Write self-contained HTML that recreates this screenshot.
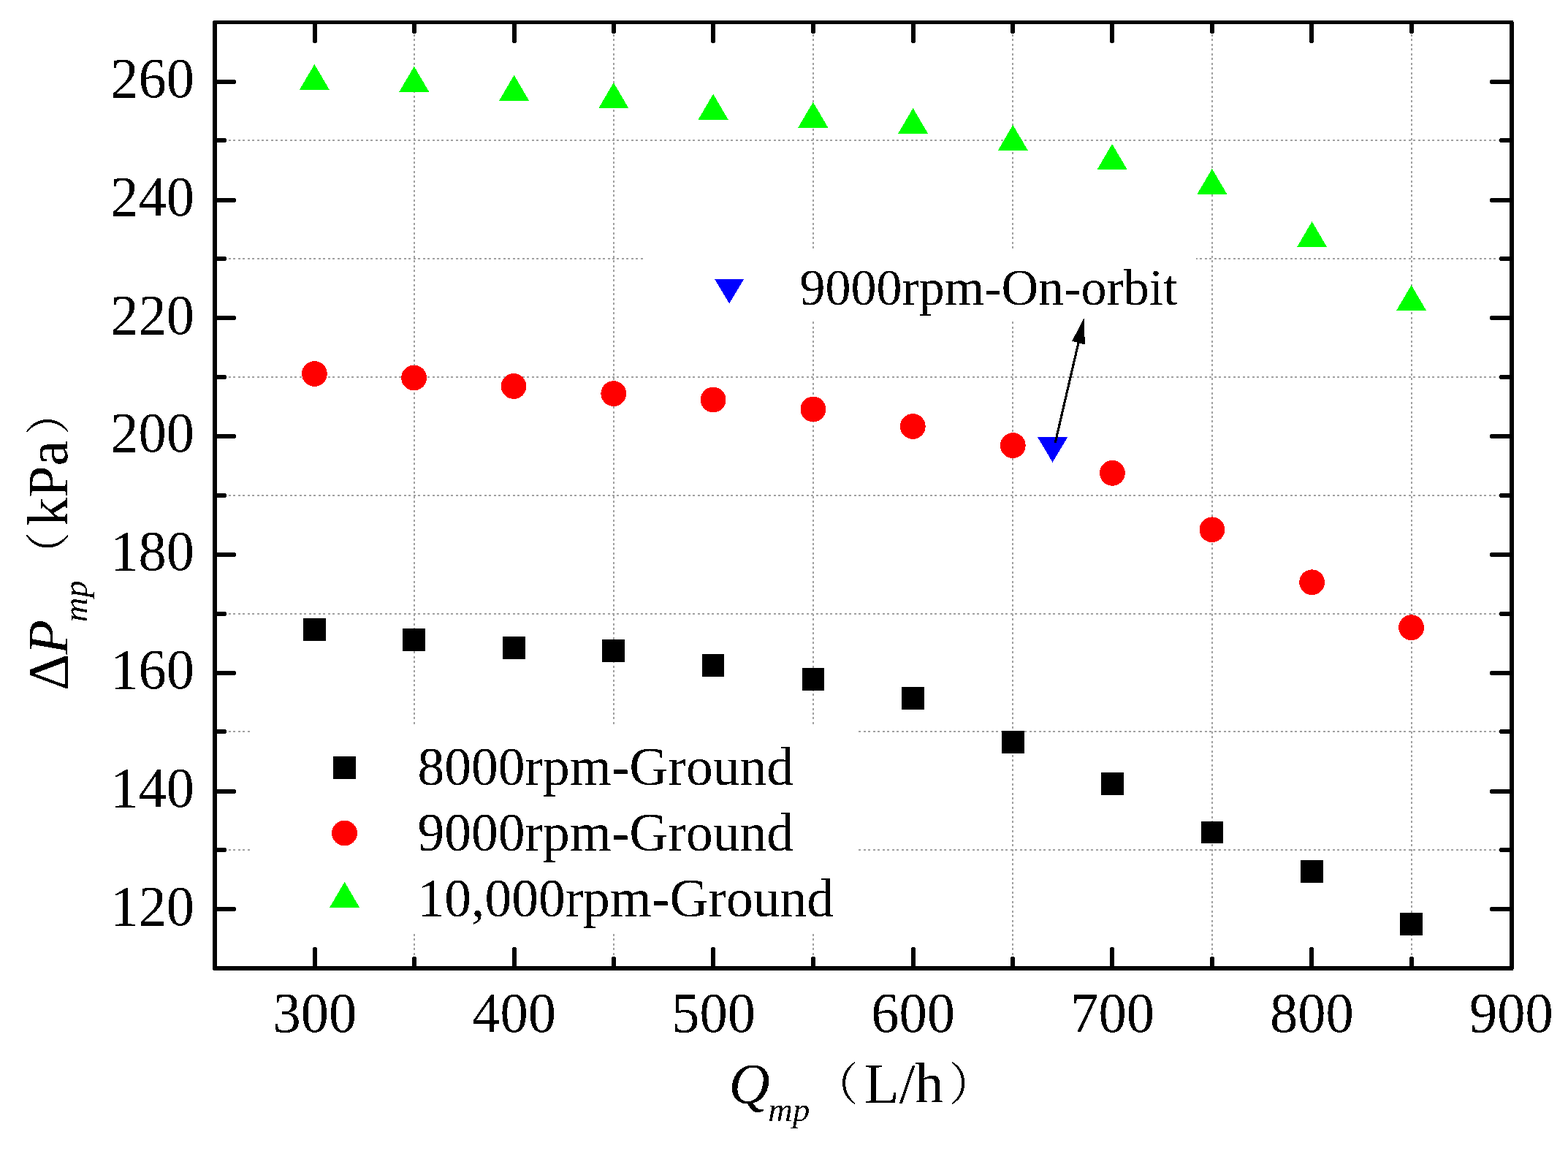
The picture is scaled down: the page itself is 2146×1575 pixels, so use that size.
<!DOCTYPE html>
<html lang="en"><head><meta charset="utf-8">
<title>Pump pressure rise vs flow rate</title>
<style>
html,body{margin:0;padding:0;background:#fff;}
body{width:2146px;height:1575px;overflow:hidden;}
svg{display:block;}
text{font-family:"Liberation Serif", "Noto Serif CJK SC", serif;fill:#000;filter:url(#bin);}
polygon,circle,rect{shape-rendering:crispEdges;}
.it{font-style:italic;}
.g{stroke:#a0a0a0;stroke-width:2;fill:none;}
.gh{stroke-dasharray:3 3.4863;stroke-dashoffset:3.86;}
.gv{stroke-dasharray:3 3.445;stroke-dashoffset:5.385;}
</style></head><body>
<svg width="2146" height="1575" viewBox="0 0 2146 1575">
<defs><filter id="bin" x="-5%" y="-5%" width="110%" height="110%" color-interpolation-filters="sRGB"><feComponentTransfer><feFuncA type="discrete" tableValues="0 1"/></feComponentTransfer></filter></defs>
<rect x="0" y="0" width="2146" height="1575" fill="#fff"/>
<g class="g" shape-rendering="crispEdges">
<line class="gv" x1="567" y1="33" x2="567" y2="1322"/>
<line class="gv" x1="840" y1="33" x2="840" y2="1322"/>
<line class="gv" x1="1113" y1="33" x2="1113" y2="1322"/>
<line class="gv" x1="1386" y1="33" x2="1386" y2="1322"/>
<line class="gv" x1="1659" y1="33" x2="1659" y2="1322"/>
<line class="gv" x1="1932" y1="33" x2="1932" y2="1322"/>
<line class="gh" x1="297" y1="192" x2="2066" y2="192"/>
<line class="gh" x1="297" y1="354" x2="2066" y2="354"/>
<line class="gh" x1="297" y1="516" x2="2066" y2="516"/>
<line class="gh" x1="297" y1="678" x2="2066" y2="678"/>
<line class="gh" x1="297" y1="840" x2="2066" y2="840"/>
<line class="gh" x1="297" y1="1001" x2="2066" y2="1001"/>
<line class="gh" x1="297" y1="1163" x2="2066" y2="1163"/>
</g>
<rect x="342" y="991" width="833" height="287" fill="#fff"/>
<rect x="881" y="340" width="756" height="100" fill="#fff"/>
<g fill="#00ff00"><polygon points="430.4,87.9 450.9,122.9 409.9,122.9"/><polygon points="566.8,90.8 587.3,125.8 546.3,125.8"/><polygon points="703.6,102.8 724.1,137.8 683.1,137.8"/><polygon points="839.8,113.0 860.3,148.0 819.3,148.0"/><polygon points="976.1,128.6 996.6,163.6 955.6,163.6"/><polygon points="1112.8,139.6 1133.3,174.6 1092.3,174.6"/><polygon points="1249.6,147.9 1270.1,182.9 1229.1,182.9"/><polygon points="1386.3,170.9 1406.8,205.9 1365.8,205.9"/><polygon points="1522.1,196.9 1542.6,231.9 1501.6,231.9"/><polygon points="1658.9,230.8 1679.4,265.8 1638.4,265.8"/><polygon points="1795.6,303.1 1816.1,338.1 1775.1,338.1"/><polygon points="1931.6,390.0 1952.1,425.0 1911.1,425.0"/></g>
<g fill="#ff0000"><circle cx="430.4" cy="511.5" r="17.4"/><circle cx="566.6" cy="517.0" r="17.4"/><circle cx="703.1" cy="528.5" r="17.4"/><circle cx="839.8" cy="538.6" r="17.4"/><circle cx="976.1" cy="547.0" r="17.4"/><circle cx="1112.9" cy="560.0" r="17.4"/><circle cx="1249.3" cy="583.5" r="17.4"/><circle cx="1386.3" cy="609.6" r="17.4"/><circle cx="1522.4" cy="647.3" r="17.4"/><circle cx="1658.9" cy="724.8" r="17.4"/><circle cx="1795.6" cy="796.8" r="17.4"/><circle cx="1931.6" cy="858.7" r="17.4"/></g>
<g fill="#000000"><rect x="415.2" y="846.1" width="30.6" height="30.6"/><rect x="551.2" y="859.9" width="30.6" height="30.6"/><rect x="688.2" y="871.1" width="30.6" height="30.6"/><rect x="824.1" y="875.4" width="30.6" height="30.6"/><rect x="960.5" y="895.2" width="30.6" height="30.6"/><rect x="1097.7" y="914.2" width="30.6" height="30.6"/><rect x="1234.2" y="940.2" width="30.6" height="30.6"/><rect x="1371.2" y="1000.1" width="30.6" height="30.6"/><rect x="1507.2" y="1057.1" width="30.6" height="30.6"/><rect x="1643.8" y="1123.7" width="30.6" height="30.6"/><rect x="1780.2" y="1177.2" width="30.6" height="30.6"/><rect x="1916.1" y="1249.2" width="30.6" height="30.6"/></g>
<g fill="#0000ff"><polygon points="1420.1,598.2 1461.1,598.2 1440.6,632.7"/></g>
<line x1="1444.2" y1="606" x2="1476" y2="469" stroke="#000" stroke-width="3.2" shape-rendering="crispEdges"/>
<polygon points="1483.8,435 1467.2,466.7 1484.8,471.4" fill="#000"/>
<g fill="#000">
<rect x="292" y="28" width="1779" height="5"/>
<rect x="292" y="1322" width="1779" height="6"/>
<rect x="291" y="29" width="6" height="1298"/>
<rect x="2066" y="30" width="6" height="1296"/>
<rect x="428" y="1296" width="6" height="28" rx="2.2"/>
<rect x="428" y="31" width="6" height="28" rx="2.2"/>
<rect x="564" y="1309" width="6" height="15" rx="2.2"/>
<rect x="564" y="31" width="6" height="15" rx="2.2"/>
<rect x="701" y="1296" width="6" height="28" rx="2.2"/>
<rect x="701" y="31" width="6" height="28" rx="2.2"/>
<rect x="837" y="1309" width="6" height="15" rx="2.2"/>
<rect x="837" y="31" width="6" height="15" rx="2.2"/>
<rect x="973" y="1296" width="6" height="28" rx="2.2"/>
<rect x="973" y="31" width="6" height="28" rx="2.2"/>
<rect x="1110" y="1309" width="6" height="15" rx="2.2"/>
<rect x="1110" y="31" width="6" height="15" rx="2.2"/>
<rect x="1247" y="1296" width="6" height="28" rx="2.2"/>
<rect x="1247" y="31" width="6" height="28" rx="2.2"/>
<rect x="1383" y="1309" width="6" height="15" rx="2.2"/>
<rect x="1383" y="31" width="6" height="15" rx="2.2"/>
<rect x="1519" y="1296" width="6" height="28" rx="2.2"/>
<rect x="1519" y="31" width="6" height="28" rx="2.2"/>
<rect x="1656" y="1309" width="6" height="15" rx="2.2"/>
<rect x="1656" y="31" width="6" height="15" rx="2.2"/>
<rect x="1792" y="1296" width="6" height="28" rx="2.2"/>
<rect x="1792" y="31" width="6" height="28" rx="2.2"/>
<rect x="1929" y="1309" width="6" height="15" rx="2.2"/>
<rect x="1929" y="31" width="6" height="15" rx="2.2"/>
<rect x="295" y="1241" width="28" height="6" rx="2.2"/>
<rect x="2039" y="1241" width="29" height="6" rx="2.2"/>
<rect x="295" y="1160" width="15" height="6" rx="2.2"/>
<rect x="2052" y="1160" width="16" height="6" rx="2.2"/>
<rect x="295" y="1080" width="28" height="6" rx="2.2"/>
<rect x="2039" y="1080" width="29" height="6" rx="2.2"/>
<rect x="295" y="998" width="15" height="6" rx="2.2"/>
<rect x="2052" y="998" width="16" height="6" rx="2.2"/>
<rect x="295" y="918" width="28" height="6" rx="2.2"/>
<rect x="2039" y="918" width="29" height="6" rx="2.2"/>
<rect x="295" y="837" width="15" height="6" rx="2.2"/>
<rect x="2052" y="837" width="16" height="6" rx="2.2"/>
<rect x="295" y="756" width="28" height="6" rx="2.2"/>
<rect x="2039" y="756" width="29" height="6" rx="2.2"/>
<rect x="295" y="675" width="15" height="6" rx="2.2"/>
<rect x="2052" y="675" width="16" height="6" rx="2.2"/>
<rect x="295" y="594" width="28" height="6" rx="2.2"/>
<rect x="2039" y="594" width="29" height="6" rx="2.2"/>
<rect x="295" y="513" width="15" height="6" rx="2.2"/>
<rect x="2052" y="513" width="16" height="6" rx="2.2"/>
<rect x="295" y="432" width="28" height="6" rx="2.2"/>
<rect x="2039" y="432" width="29" height="6" rx="2.2"/>
<rect x="295" y="351" width="15" height="6" rx="2.2"/>
<rect x="2052" y="351" width="16" height="6" rx="2.2"/>
<rect x="295" y="271" width="28" height="6" rx="2.2"/>
<rect x="2039" y="271" width="29" height="6" rx="2.2"/>
<rect x="295" y="189" width="15" height="6" rx="2.2"/>
<rect x="2052" y="189" width="16" height="6" rx="2.2"/>
<rect x="295" y="109" width="28" height="6" rx="2.2"/>
<rect x="2039" y="109" width="29" height="6" rx="2.2"/>
</g>
<g font-size="76.5" text-anchor="middle">
<text transform="translate(430.8 1411.5) scale(1 1.035)">300</text>
<text transform="translate(703.7 1411.5) scale(1 1.035)">400</text>
<text transform="translate(976.6 1411.5) scale(1 1.035)">500</text>
<text transform="translate(1249.5 1411.5) scale(1 1.035)">600</text>
<text transform="translate(1522.5 1411.5) scale(1 1.035)">700</text>
<text transform="translate(1795.4 1411.5) scale(1 1.035)">800</text>
<text transform="translate(2068.3 1411.5) scale(1 1.035)">900</text>
</g>
<g font-size="76.5" text-anchor="end">
<text transform="translate(266.0 1265.6) scale(1 1.035)">120</text>
<text transform="translate(266.0 1103.8) scale(1 1.035)">140</text>
<text transform="translate(266.0 942.0) scale(1 1.035)">160</text>
<text transform="translate(266.0 780.2) scale(1 1.035)">180</text>
<text transform="translate(266.0 618.4) scale(1 1.035)">200</text>
<text transform="translate(266.0 456.6) scale(1 1.035)">220</text>
<text transform="translate(266.0 294.8) scale(1 1.035)">240</text>
<text transform="translate(266.0 133.0) scale(1 1.035)">260</text>
</g>
<text><tspan class="it" font-size="78" x="997.6" y="1509.2">Q</tspan><tspan class="it" font-size="46.5" x="1051.3" y="1534.4">mp</tspan><tspan font-size="62" x="1112.8" y="1506.0">（</tspan><tspan font-size="78" x="1183.0" y="1509.2">L/h</tspan><tspan font-size="62" x="1298.8" y="1506.0">）</tspan></text>
<text transform="translate(91.8 944.7) rotate(-90)"><tspan font-size="78" x="0.0" y="0.0">Δ</tspan><tspan class="it" font-size="78" x="48.9" y="0.0">P</tspan><tspan class="it" font-size="46.5" x="93.6" y="27.3">mp</tspan><tspan font-size="62" x="155.0" y="-2.9">（</tspan><tspan font-size="78" x="224.9" y="0.0">kPa</tspan><tspan font-size="62" x="349.2" y="-2.9">）</tspan></text>
<g fill="#000"><rect x="456.2" y="1034.9" width="30.6" height="30.6"/></g>
<g fill="#ff0000"><circle cx="471.5" cy="1140.0" r="17.4"/></g>
<g fill="#00ff00"><polygon points="471.6,1206.8 492.1,1241.8 451.1,1241.8"/></g>
<g font-size="73.5">
<text x="571.5" y="1074">8000rpm-Ground</text>
<text x="571.5" y="1164">9000rpm-Ground</text>
<text x="571.5" y="1254">10,000rpm-Ground</text>
</g>
<g fill="#0000ff"><polygon points="977.8,381.5 1018.4,381.5 998.1,415.3"/></g>
<text x="1094.5" y="416.5" font-size="70">9000rpm-On-orbit</text>
</svg>
</body></html>
